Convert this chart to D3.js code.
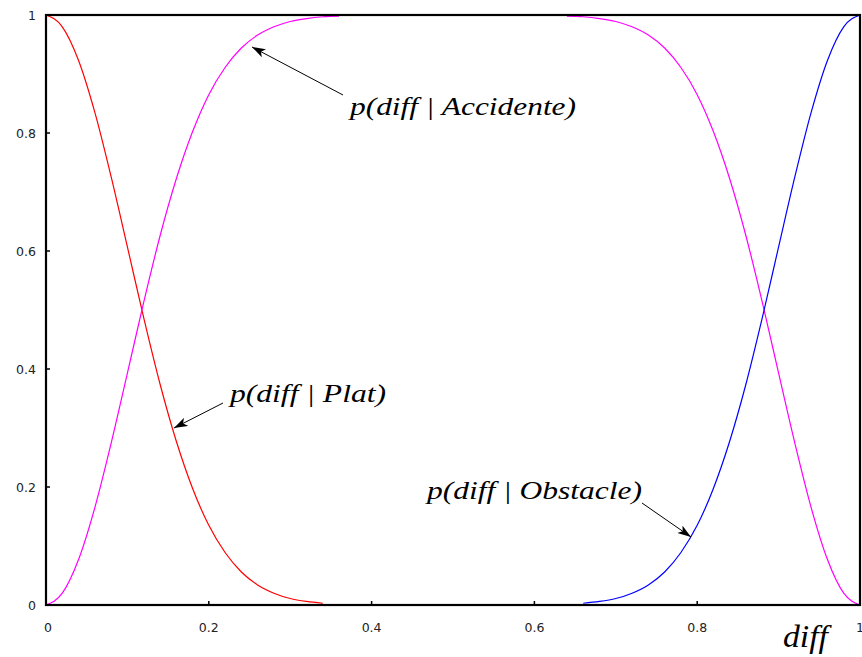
<!DOCTYPE html>
<html><head><meta charset="utf-8">
<script src="https://cdn.jsdelivr.net/npm/d3@7"></script>
<style>body{margin:0;background:#fff}svg{display:block}</style>
</head><body>
<svg id="c" width="862" height="657"></svg>
<script>
// Data
const xPlat = [0,0.02,0.04,0.06,0.08,0.10,0.12,0.14,0.16,0.18,0.20,0.22,0.24,0.26,0.28,0.30,0.32,0.34];
const yPlat = [1,0.980,0.923,0.835,0.726,0.607,0.487,0.375,0.278,0.198,0.135,0.089,0.056,0.034,0.020,0.011,0.006,0.003];
const xAccL = [0,0.02,0.04,0.06,0.08,0.10,0.12,0.14,0.16,0.18,0.20,0.22,0.24,0.26,0.28,0.30,0.32,0.34,0.36];
const yAccL = [0,0.020,0.077,0.165,0.274,0.393,0.513,0.625,0.722,0.802,0.865,0.911,0.944,0.966,0.980,0.989,0.994,0.997,0.998];
const xAccR = [0.64,0.66,0.68,0.70,0.72,0.74,0.76,0.78,0.80,0.82,0.84,0.86,0.88,0.90,0.92,0.94,0.96,0.98,1];
const yAccR = [0.998,0.997,0.994,0.989,0.980,0.966,0.944,0.911,0.865,0.802,0.722,0.625,0.513,0.393,0.274,0.165,0.077,0.020,0];
const xObs = [0.66,0.68,0.70,0.72,0.74,0.76,0.78,0.80,0.82,0.84,0.86,0.88,0.90,0.92,0.94,0.96,0.98,1];
const yObs = [0.003,0.006,0.011,0.020,0.034,0.056,0.089,0.135,0.198,0.278,0.375,0.487,0.607,0.726,0.835,0.923,0.980,1];
const xTicks = [0,0.2,0.4,0.6,0.8,1];
const yTicks = [0,0.2,0.4,0.6,0.8,1];
const tickLabels = ["0","0.2","0.4","0.6","0.8","1"];

const svg = d3.select("#c");
const x = d3.scaleLinear().domain([0,1]).range([46,860]);
const y = d3.scaleLinear().domain([0,1]).range([605,15]);

svg.append("defs").append("marker").attr("id","ah").attr("viewBox","0 0 12 8")
  .attr("refX",12).attr("refY",4).attr("markerWidth",14).attr("markerHeight",9)
  .attr("markerUnits","userSpaceOnUse").attr("orient","auto")
  .append("path").attr("d","M0,0 L12,4 L0,8 L3,4 Z").attr("fill","#000");

// curves
const line = d3.line().x(d=>x(d[0])).y(d=>y(d[1])).curve(d3.curveMonotoneX);
function draw(xs, ys, col){
  svg.append("path").datum(d3.zip(xs,ys)).attr("d",line)
    .attr("fill","none").attr("stroke",col).attr("stroke-width",1.2);
}
draw(xPlat,yPlat,"#ff0000");
draw(xAccL,yAccL,"#ff00ff");
draw(xAccR,yAccR,"#ff00ff");
draw(xObs,yObs,"#0000ff");

// frame
svg.append("rect").attr("x",x(0)).attr("y",y(1)).attr("width",x(1)-x(0)).attr("height",y(0)-y(1))
  .attr("fill","none").attr("stroke","#000").attr("stroke-width",2.2);

// ticks (inward)
const tickFont = "'DejaVu Sans', sans-serif";
xTicks.forEach((t,i)=>{
  svg.append("line").attr("x1",x(t)).attr("x2",x(t)).attr("y1",y(0)).attr("y2",y(0)-4)
    .attr("stroke","#000").attr("stroke-width",1.5);
  svg.append("text").attr("x",x(t)+(i===0?2:0)).attr("y",632).attr("text-anchor","middle")
    .attr("font-family",tickFont).attr("font-size",12.5).attr("fill","#222").text(tickLabels[i]);
});
yTicks.forEach((t,i)=>{
  svg.append("line").attr("x1",x(0)).attr("x2",x(0)+4).attr("y1",y(t)).attr("y2",y(t))
    .attr("stroke","#000").attr("stroke-width",1.5);
  svg.append("text").attr("x",36).attr("y",y(t)+5).attr("text-anchor","end")
    .attr("font-family",tickFont).attr("font-size",12.5).attr("fill","#222").text(tickLabels[i]);
});

// annotations
const serif = "'Liberation Serif','DejaVu Serif',serif";
function label(tx,ty,txt,size,w){
  svg.append("text").attr("x",tx).attr("y",ty).attr("font-family",serif)
    .attr("font-style","italic").attr("font-size",size).attr("fill","#000")
    .attr("textLength",w).attr("lengthAdjust","spacingAndGlyphs").text(txt);
}
function arrow(x1,y1,x2,y2){
  svg.append("line").attr("x1",x1).attr("y1",y1).attr("x2",x2).attr("y2",y2)
    .attr("stroke","#000").attr("stroke-width",1).attr("marker-end","url(#ah)");
}
label(350,115,"p(diff | Accidente)",26,226);
arrow(343,95,252,47);
label(230,402,"p(diff | Plat)",26,156);
arrow(223,403,174,428);
label(427,499,"p(diff | Obstacle)",26,215);
arrow(642,503,691,537);
label(783,647,"diff",32,45);
</script>
</body></html>
